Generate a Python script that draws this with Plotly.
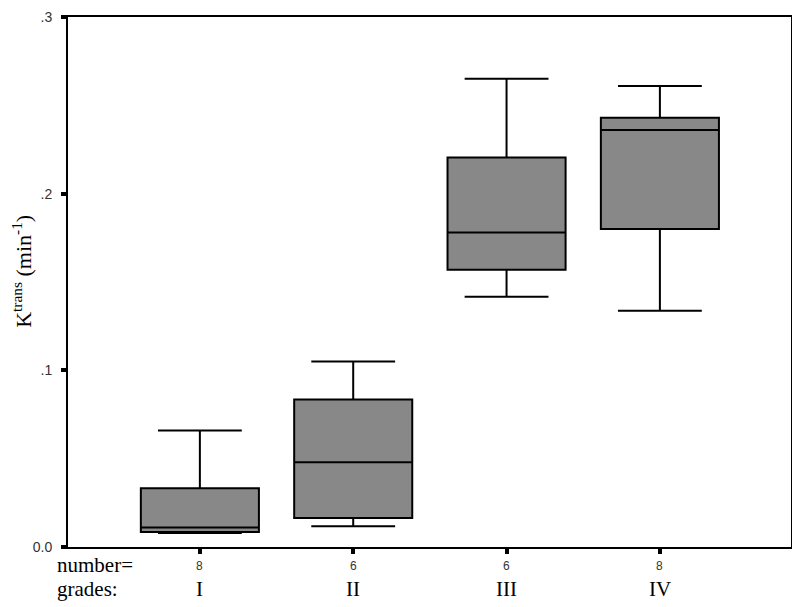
import plotly.graph_objects as go

# grades and box statistics (Ktrans, min^-1)
grades = ["I", "II", "III", "IV"]
counts = [8, 6, 6, 8]
lower = [0.0079, 0.0118, 0.1416, 0.1337]
q1 = [0.0085, 0.0164, 0.157, 0.180]
median = [0.0110, 0.048, 0.178, 0.236]
q3 = [0.0333, 0.0835, 0.2205, 0.243]
upper = [0.066, 0.105, 0.265, 0.261]

fig = go.Figure()
fig.add_trace(go.Box(
    x=grades, q1=q1, median=median, q3=q3,
    lowerfence=lower, upperfence=upper,
    fillcolor="#888888",
    line=dict(color="black", width=2),
    whiskerwidth=0.71,
    width=0.77,
    boxpoints=False,
    showlegend=False,
    hoverinfo="skip",
))

# page body adds an 8px offset, so the figure is a bit smaller
fig.update_layout(
    width=792, height=599,
    margin=dict(l=60, r=9, t=9, b=60),
    plot_bgcolor="white", paper_bgcolor="white",
    font=dict(family="Liberation Sans", color="#222"),
)
fig.update_xaxes(
    type="category", range=[-0.86, 3.855], automargin=False,
    showline=True, linecolor="black", linewidth=2, mirror=True,
    ticks="outside", ticklen=5, tickwidth=4, tickcolor="black",
    showticklabels=False, showgrid=False, zeroline=False,
)
fig.update_yaxes(
    range=[0, 0.3], tickvals=[0, 0.1, 0.2, 0.3],
    ticktext=["0.0", ".1", ".2", ".3"], automargin=False,
    ticklabeloverflow="allow", ticklabelstandoff=6,
    showline=True, linecolor="black", linewidth=2, mirror=True,
    ticks="outside", ticklen=5, tickwidth=4, tickcolor="black",
    tickfont=dict(family="Liberation Sans", size=14, color="#333"),
    showgrid=False, zeroline=False,
)

# y axis title, placed by hand so it sits near the left edge
fig.add_annotation(x=-0.063, y=0.52, xref="paper", yref="paper",
                   text="K<sup>trans</sup> (min<sup>-1</sup>)", textangle=-90,
                   showarrow=False, xanchor="center", yanchor="middle",
                   font=dict(family="Liberation Serif", size=22, color="black"))

# two rows of labels under the axis
for g, n in zip(grades, counts):
    fig.add_annotation(x=g, y=-0.036, xref="x", yref="paper", text=str(n),
                       showarrow=False, yanchor="middle",
                       font=dict(family="Liberation Sans", size=12, color="#333"))
    fig.add_annotation(x=g, y=-0.080, xref="x", yref="paper", text=g,
                       showarrow=False, yanchor="middle",
                       font=dict(family="Liberation Serif", size=21, color="black"))
fig.add_annotation(x=-0.018, y=-0.034, xref="paper", yref="paper", text="number=",
                   showarrow=False, xanchor="left", yanchor="middle",
                   font=dict(family="Liberation Serif", size=21, color="black"))
fig.add_annotation(x=-0.018, y=-0.080, xref="paper", yref="paper", text="grades:",
                   showarrow=False, xanchor="left", yanchor="middle",
                   font=dict(family="Liberation Serif", size=21, color="black"))

fig.write_html("out.html")
